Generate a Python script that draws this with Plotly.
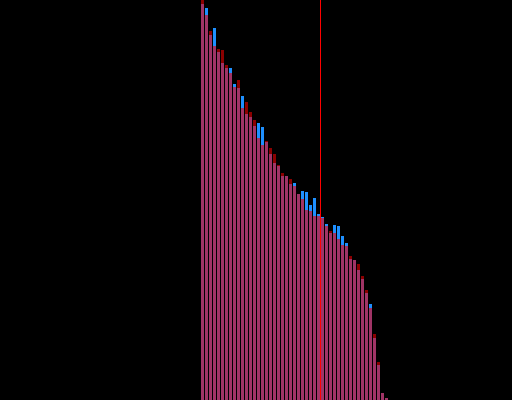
import plotly.graph_objects as go

# Two series (blue and red), one value per category index
categories = list(range(47))
blue_values = [396, 392, 365, 372, 348, 337, 332, 332, 316, 312,
               304, 286, 283, 274, 277, 273, 258, 246, 237, 234,
               224, 224, 216, 217, 206, 209, 208, 195, 202, 186,
               183, 176, 167, 175, 174, 164, 157, 141, 140, 130,
               121, 107, 96, 62, 35, 7, 2]
red_values = [402, 385, 369, 354, 351, 350, 335, 327, 313, 320,
              292, 298, 288, 280, 262, 255, 259, 252, 246, 235,
              227, 224, 221, 214, 206, 201, 190, 189, 184, 184,
              182, 174, 169, 167, 161, 155, 154, 144, 140, 136,
              124, 110, 92, 66, 38, 7, 2]
threshold_x = 29.5

common = [min(a, b) for a, b in zip(blue_values, red_values)]

BLUE = "#1e90ff"
RED = "#8b0000"
PINK = "rgb(160,52,102)"

fig = go.Figure()
fig.add_trace(go.Bar(x=categories, y=blue_values, marker=dict(color=BLUE, line=dict(width=0)), width=0.75))
fig.add_trace(go.Bar(x=categories, y=red_values, marker=dict(color=RED, line=dict(width=0)), width=0.75))
fig.add_trace(go.Bar(x=categories, y=common, marker=dict(color=PINK, line=dict(width=0)), width=0.75))

fig.add_shape(type="line", x0=threshold_x, x1=threshold_x, y0=0, y1=1,
              xref="x", yref="paper", line=dict(color="#ff0000", width=1))

fig.update_layout(
    width=512, height=400,
    margin=dict(l=0, r=0, t=0, b=0),
    paper_bgcolor="black", plot_bgcolor="black",
    barmode="overlay", showlegend=False,
    xaxis=dict(range=[-50.625, 77.375], visible=False),
    yaxis=dict(range=[0, 400], visible=False),
)
fig.write_html(
    "out.html",
    config={"displayModeBar": False},
    post_script="document.body.style.margin='0';document.body.style.background='black';",
)
